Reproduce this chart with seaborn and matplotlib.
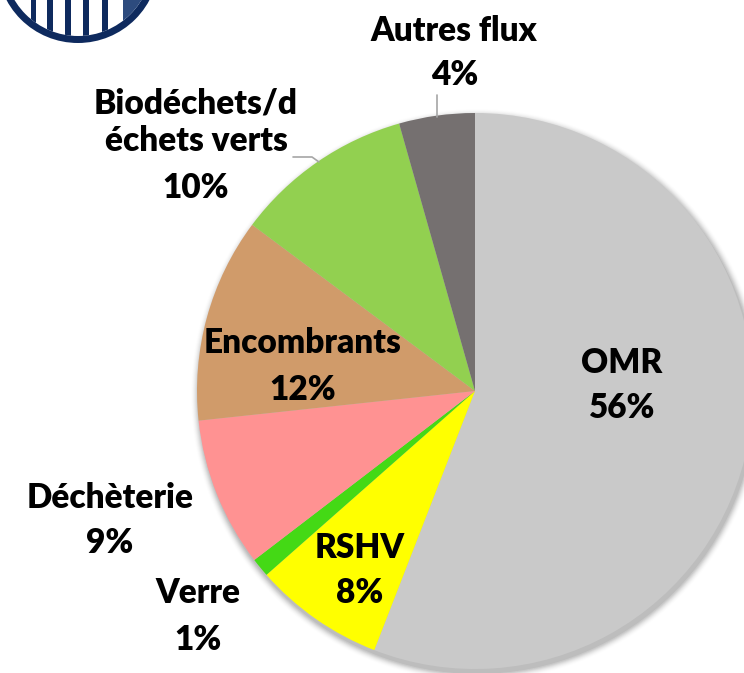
import matplotlib
matplotlib.use("Agg")
import matplotlib.pyplot as plt
import matplotlib.patches as mpatches
import seaborn as sns
import numpy as np

# ---- data ----
categories = ["OMR", "RSHV", "Verre", "Déchèterie", "Encombrants",
              "Biodéchets/d\néchets verts", "Autres flux"]
values = [55.9, 7.6, 1.1, 8.7, 11.9, 10.4, 4.4]
pct_labels = ["56%", "8%", "1%", "9%", "12%", "10%", "4%"]
colors = ["#C9C9C9", "#FFFF00", "#44D915", "#FF9292", "#D09B6A", "#92D050", "#757070"]

sns.set_theme(style="white")
plt.rcParams['font.family'] = ['Lato', 'DejaVu Sans']

W, H = 744, 673
fig = plt.figure(figsize=(W / 100, H / 100), dpi=100)
ax = fig.add_axes([0, 0, 1, 1])
ax.set_xlim(0, W)
ax.set_ylim(0, H)
ax.axis("off")

cx, cy, R = 475, H - 391, 278

# soft shadow
for i, a in enumerate(np.linspace(0.10, 0.015, 8)):
    ax.add_patch(mpatches.Circle((cx + 2, cy - 4), R + 1 + i, color="#000000",
                                 alpha=a * 0.6, lw=0, zorder=0))

wedges, _ = ax.pie(values, colors=colors, startangle=90, counterclock=False,
                   radius=R, center=(cx, cy), frame=True,
                   wedgeprops=dict(linewidth=0, zorder=2))
ax.set_xlim(0, W)
ax.set_ylim(0, H)
ax.set_aspect("equal")
ax.axis("off")

# labels: (name position, pct position) in pixel coords (x, y from top)
label_pos = [
    ((622, 363), (622, 408)),
    ((360, 548), (360, 593)),
    ((198, 593), (198, 640)),
    ((110, 498), (110, 543)),
    ((303, 343), (303, 390)),
    ((196, 122), (196, 188)),
    ((454, 31), (455, 75)),
]
fs = 24
for name, pct, (p1, p2) in zip(categories, pct_labels, label_pos):
    ax.text(p1[0], H - p1[1], name, ha="center", va="center", fontsize=fs,
            fontweight="heavy", color="black", linespacing=1.2, zorder=5)
    ax.text(p2[0], H - p2[1], pct, ha="center", va="center", fontsize=fs,
            fontweight="heavy", color="black", zorder=5)

# leader lines
ax.plot([437, 437], [H - 95, H - 117], color="#A6A6A6", lw=1.2, zorder=3)
ax.plot([293, 312, 319], [H - 157, H - 157, H - 162], color="#A6A6A6", lw=1.2, zorder=3)

# logo (partial, top-left)
lc = (78, H + 38)
ax.add_patch(mpatches.Circle(lc, 81, color="#0E2A5E", lw=0, zorder=6))
inner = mpatches.Circle(lc, 74, color="white", lw=0, zorder=7)
ax.add_patch(inner)
for bx, bw in [(33, 5), (50, 6), (68, 6), (86, 6), (105, 6)]:
    r = mpatches.Rectangle((bx - bw / 2, H - 45), bw, 60, color="#0E2A5E", lw=0, zorder=8)
    ax.add_patch(r)
    r.set_clip_path(inner)
rr = mpatches.Rectangle((123, H - 45), 40, 60, color="#2D4B7E", lw=0, zorder=8)
ax.add_patch(rr)
rr.set_clip_path(inner)

fig.savefig("out.png", dpi=100)
